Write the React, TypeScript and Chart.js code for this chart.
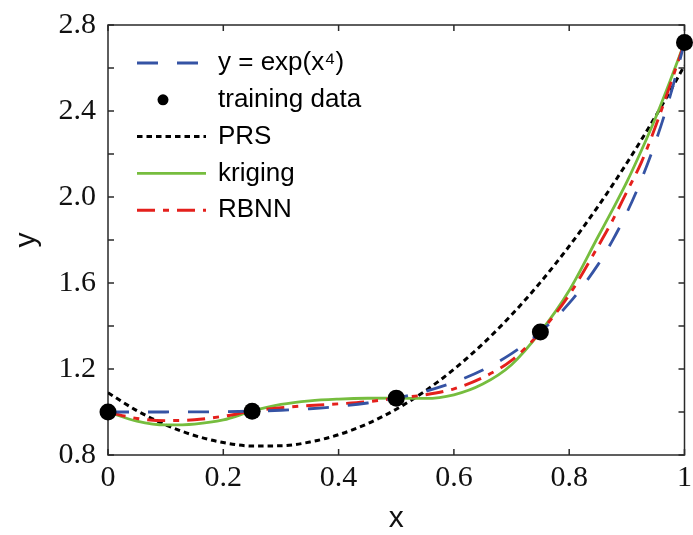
import React, { useEffect, useRef } from "react";
import { Chart, registerables } from "chart.js";

Chart.register(...registerables);

// Sample positions along x shared by the curves
const xGrid = [0, 0.05, 0.1, 0.15, 0.2, 0.25, 0.3, 0.35, 0.4, 0.45, 0.5, 0.55, 0.6, 0.65, 0.7, 0.75, 0.8, 0.85, 0.875, 0.9, 0.925, 0.95, 0.975, 1];

// Exact response y = exp(x^4)
const exactY = [1.0, 1.0, 1.0001, 1.0005, 1.0016, 1.0039, 1.0081, 1.0151, 1.0259, 1.0419, 1.0645, 1.0958, 1.1384, 1.1954, 1.2714, 1.3722, 1.5062, 1.6855, 1.7972, 1.9272, 2.0796, 2.2581, 2.4687, 2.7183];

// Quadratic polynomial response surface
const prsY = [1.0895, 1.0065, 0.9403, 0.8907, 0.858, 0.842, 0.8427, 0.8602, 0.8944, 0.9454, 1.0131, 1.0976, 1.1988, 1.3168, 1.4515, 1.603, 1.7712, 1.9562, 2.055, 2.158, 2.2651, 2.3764, 2.4919, 2.6117];

// Kriging surrogate
const krigingY = [1.0, 0.958, 0.94, 0.944, 0.963, 1.0039, 1.035, 1.052, 1.06, 1.064, 1.0645, 1.063, 1.08, 1.13, 1.22, 1.3722, 1.565, 1.815, 1.94, 2.07, 2.215, 2.37, 2.54, 2.7183];

// Radial basis neural network surrogate
const rbnnY = [1.0, 0.97, 0.96, 0.964, 0.98, 1.0039, 1.02, 1.03, 1.038, 1.048, 1.0645, 1.08, 1.108, 1.16, 1.24, 1.3722, 1.545, 1.77, 1.89, 2.025, 2.16, 2.33, 2.52, 2.7183];

// Training samples
const trainX = [0, 0.25, 0.5, 0.75, 1];
const trainY = [1.0, 1.0039, 1.0645, 1.3722, 2.7183];

const xTickLabels = ["0", "0.2", "0.4", "0.6", "0.8", "1"];
const yTickLabels = ["0.8", "1.2", "1.6", "2.0", "2.4", "2.8"];

const seriesLabels = ["y = exp(x\u2074)", "training data", "PRS", "kriging", "RBNN"];

const toPoints = (xs: number[], ys: number[]) => xs.map((x, i) => ({ x, y: ys[i] }));

// Closed frame with inward tick marks on all four sides
const framePlugin = {
  id: "frameTicks",
  beforeDatasetsDraw(chart: any) {
    const { ctx, chartArea: a, scales } = chart;
    const len = 6;
    ctx.save();
    ctx.strokeStyle = "#2a2a2a";
    ctx.lineWidth = 1.5;
    ctx.strokeRect(a.left, a.top, a.right - a.left, a.bottom - a.top);
    ctx.beginPath();
    scales.x.ticks.forEach((t: any) => {
      const px = scales.x.getPixelForValue(t.value);
      ctx.moveTo(px, a.bottom);
      ctx.lineTo(px, a.bottom - len);
      ctx.moveTo(px, a.top);
      ctx.lineTo(px, a.top + len);
    });
    scales.y.ticks.forEach((t: any) => {
      const py = scales.y.getPixelForValue(t.value);
      ctx.moveTo(a.left, py);
      ctx.lineTo(a.left + len, py);
      ctx.moveTo(a.right, py);
      ctx.lineTo(a.right - len, py);
    });
    ctx.stroke();
    ctx.restore();
  },
};

// Legend in the upper-left corner of the plot area
const legendPlugin = {
  id: "curveLegend",
  afterDatasetsDraw(chart: any) {
    const { ctx, chartArea: a } = chart;
    const x0 = a.left + 29;
    const x1 = a.left + 98;
    const tx = a.left + 110;
    const y0 = a.top + 38;
    const step = 36.8;
    ctx.save();
    chart.data.datasets.forEach((ds: any, row: number) => {
      const y = y0 + row * step;
      if (ds.showLine === false) {
        ctx.fillStyle = ds.pointBackgroundColor;
        ctx.beginPath();
        ctx.arc(a.left + 55, y, 5.5, 0, Math.PI * 2);
        ctx.fill();
      } else {
        ctx.strokeStyle = ds.borderColor;
        ctx.lineWidth = ds.borderWidth;
        ctx.setLineDash(ds.borderDash || []);
        ctx.beginPath();
        ctx.moveTo(x0, y);
        ctx.lineTo(x1, y);
        ctx.stroke();
        ctx.setLineDash([]);
      }
      ctx.fillStyle = "#000";
      ctx.font = '26px "Liberation Sans", Arial, sans-serif';
      ctx.textAlign = "left";
      ctx.textBaseline = "middle";
      ctx.fillText(ds.label, tx, y);
    });
    ctx.restore();
  },
};

export default function App() {
  const canvasRef = useRef<HTMLCanvasElement | null>(null);

  useEffect(() => {
    const canvas = canvasRef.current;
    if (!canvas) return;

    const lineBase = {
      showLine: true,
      pointRadius: 0,
      pointHoverRadius: 0,
      fill: false,
      cubicInterpolationMode: "monotone" as const,
    };

    const chart = new Chart(canvas, {
      type: "scatter",
      data: {
        datasets: [
          {
            ...lineBase,
            label: seriesLabels[0],
            data: toPoints(xGrid, exactY),
            borderColor: "#3553A4",
            borderWidth: 2.8,
            borderDash: [21, 19],
            order: 1,
          },
          {
            label: seriesLabels[1],
            data: toPoints(trainX, trainY),
            showLine: false,
            pointRadius: 8.5,
            pointBackgroundColor: "#000",
            pointBorderColor: "#000",
            pointBorderWidth: 0,
            clip: false,
            order: 0,
          },
          {
            ...lineBase,
            label: seriesLabels[2],
            data: toPoints(xGrid, prsY),
            borderColor: "#000",
            borderWidth: 3,
            borderDash: [5.5, 4],
            order: 4,
          },
          {
            ...lineBase,
            label: seriesLabels[3],
            data: toPoints(xGrid, krigingY),
            borderColor: "#76BD3E",
            borderWidth: 2.8,
            order: 3,
          },
          {
            ...lineBase,
            label: seriesLabels[4],
            data: toPoints(xGrid, rbnnY),
            borderColor: "#E4201C",
            borderWidth: 2.9,
            borderDash: [18, 8, 6, 8],
            order: 2,
          },
        ] as any,
      },
      options: {
        responsive: false,
        animation: false,
        devicePixelRatio: 1,
        layout: { padding: { top: 25, right: 8, left: 0, bottom: 0 } },
        plugins: {
          legend: { display: false },
          tooltip: { enabled: false },
        },
        scales: {
          x: {
            type: "linear",
            min: 0,
            max: 1,
            grid: { display: false, drawTicks: false, tickLength: 0 },
            border: { display: false },
            ticks: {
              stepSize: 0.2,
              autoSkip: false,
              maxRotation: 0,
              padding: 5,
              color: "#111",
              font: { family: '"Liberation Serif", "Times New Roman", serif', size: 30 },
              callback: (_v: any, i: number) => xTickLabels[i] ?? "",
            },
            title: {
              display: true,
              text: "x",
              color: "#111",
              padding: { top: 0, bottom: 0 },
              font: { family: '"Liberation Sans", Arial, sans-serif', size: 30, lineHeight: 1.1 },
            },
            afterFit: (s: any) => {
              s.height = 80;
              s.paddingLeft = 0;
              s.paddingRight = 0;
            },
          },
          y: {
            type: "linear",
            min: 0.8,
            max: 2.8,
            grid: { display: false, drawTicks: false, tickLength: 0 },
            border: { display: false },
            ticks: {
              stepSize: 0.2,
              autoSkip: false,
              padding: 12,
              color: "#111",
              font: { family: '"Liberation Serif", "Times New Roman", serif', size: 30 },
              callback: (_v: any, i: number) => (i % 2 === 0 ? yTickLabels[i / 2] ?? "" : ""),
            },
            title: {
              display: true,
              text: "y",
              color: "#111",
              padding: { top: 9, bottom: 0 },
              font: { family: '"Liberation Sans", Arial, sans-serif', size: 30 },
            },
            afterFit: (s: any) => {
              s.width = 108;
              s.paddingTop = 0;
              s.paddingBottom = 0;
            },
          },
        },
      },
      plugins: [framePlugin, legendPlugin],
    });

    return () => chart.destroy();
  }, []);

  return (
    <div style={{ position: "fixed", left: 0, top: 0, width: 693, height: 535, background: "#fff" }}>
      <canvas ref={canvasRef} width={693} height={535} />
    </div>
  );
}
